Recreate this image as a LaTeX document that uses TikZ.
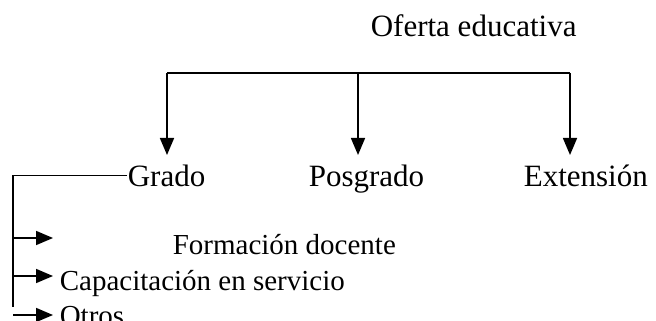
\documentclass[tikz,border=0pt]{standalone}
\usepackage{fontspec}
\setmainfont{Liberation Serif}
\usetikzlibrary{arrows.meta}
\begin{document}
\begin{tikzpicture}[x=0.5pt, y=-0.5pt, line width=0.8pt,
    txt/.style={anchor=base west, inner sep=0pt, font=\fontsize{15.5}{18}\selectfont},
    sub/.style={txt, font=\fontsize{14.5}{17}\selectfont},
    arr/.style={-{Triangle[length=8.5pt,width=7pt]}}]
    \useasboundingbox (0,0) rectangle (656,320);
    \node[txt] (oferta) at (370,37) {Oferta educativa};
    \node[txt] (grado) at (127,186) {Grado};
    \node[txt] (posgrado) at (308,186) {Posgrado};
    \node[txt] (extension) at (523,186) {Extensión};
    \node[sub] (formacion) at (172,254) {Formación docente};
    \node[sub] (capacitacion) at (59,290) {Capacitación en servicio};
    \node[sub] (otros) at (59,325) {Otros};
    \coordinate (bar) at (358,73);
    \coordinate (gradoin) at (167,155);
    \coordinate (posgradoin) at (358,155);
    \coordinate (extensionin) at (570,155);
    \draw (gradoin |- bar) -- (extensionin |- bar);
    \foreach \n in {gradoin,posgradoin,extensionin}
        \draw[arr] (\n |- bar) -- (\n);
    \coordinate (rail) at (13,307);
    \coordinate (tipa) at (53,238);
    \coordinate (tipb) at (53,276);
    \coordinate (tipc) at (53,315);
    \draw (grado.west) -| (rail);
    \foreach \t in {tipa,tipb,tipc}
        \draw[arr] (rail |- \t) -- (\t);
\end{tikzpicture}
\end{document}
